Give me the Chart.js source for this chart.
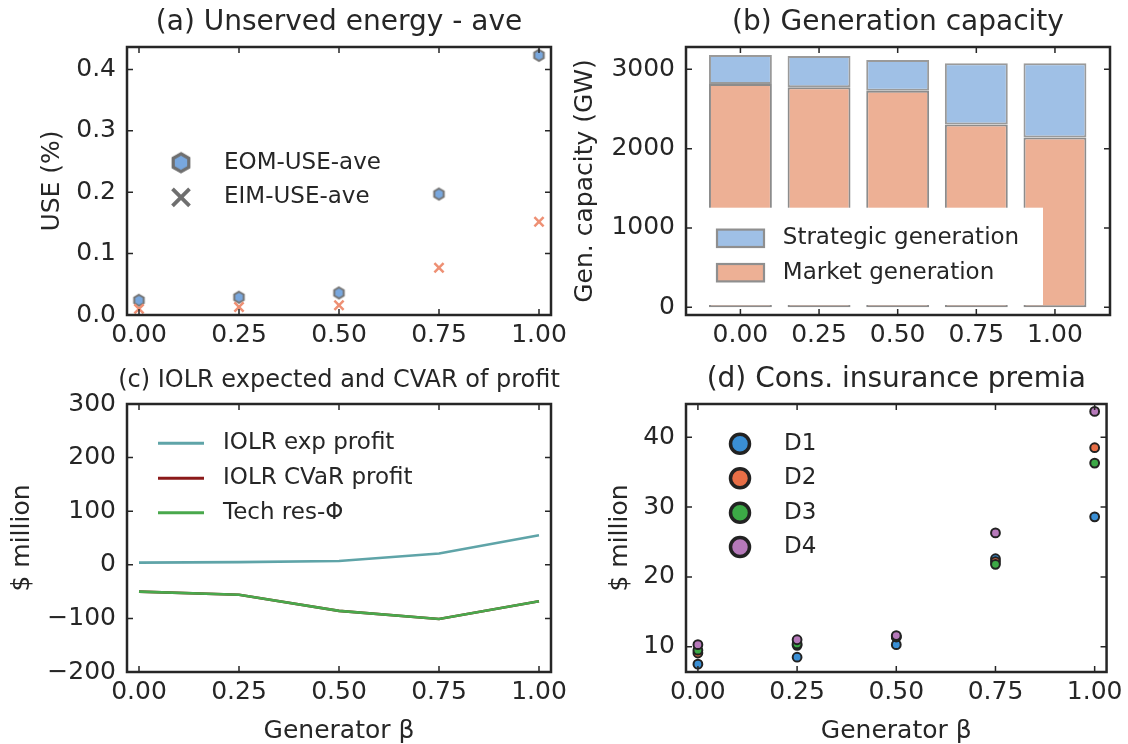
<!DOCTYPE html>
<html>
<head>
<meta charset="utf-8">
<script src="https://cdn.jsdelivr.net/npm/chart.js@4/dist/chart.umd.min.js"></script>
<style>
  html, body { margin: 0; padding: 0; background: #fff; }
  #wrap { position: relative; width: 1128px; height: 744px; overflow: hidden; }
  canvas { position: absolute; left: 0; top: 0; }
</style>
</head>
<body>
<div id="wrap">
  <canvas id="chartA" width="1128" height="744"></canvas>
  <canvas id="chartB" width="1128" height="744"></canvas>
  <canvas id="chartC" width="1128" height="744"></canvas>
  <canvas id="chartD" width="1128" height="744"></canvas>
</div>
<script>
// ---- data ----
const beta = [0, 0.25, 0.5, 0.75, 1.0]
const betaTicks = [0, 0.25, 0.5, 0.75, 1.0]

// (a) unserved energy, %
const useTicks = [0, 0.1, 0.2, 0.3, 0.4]
const eomUse = [0.024, 0.029, 0.036, 0.197, 0.423]
const eimUse = [0.010, 0.013, 0.016, 0.077, 0.152]

// (b) generation capacity, GW
const capTicks = [0, 1000, 2000, 3000]
const marketGen = [2816, 2774, 2731, 2303, 2139]
const strategicGen = [365, 395, 387, 774, 938]

// (c) IOLR profit, $ million
const profitTicks = [-200, -100, 0, 100, 200, 300]
const iolrExp = [4, 5, 7, 21, 55]
const iolrCvar = [-50, -56, -86, -101, -68]
const techRes = [-50, -56, -86, -101, -68]

// (d) consumer insurance premia, $ million
const premiaTicks = [10, 20, 30, 40]
const d1 = [7.5, 8.5, 10.3, 22.6, 28.6]
const d2 = [9.1, 10.2, 11.4, 22.2, 38.5]
const d3 = [9.5, 10.4, 11.4, 21.8, 36.3]
const d4 = [10.3, 11.0, 11.6, 26.3, 43.7]

const INK = '#262626'
const FONT = 'DejaVu Sans'
Chart.defaults.font.family = FONT
Chart.defaults.color = INK

const pts = (ys) => beta.map((b, i) => ({ x: b, y: ys[i] }))

const hexCanvas = (r, fill, stroke, lw) => {
    const size = Math.ceil(2 * r + lw + 4)
    const c = document.createElement('canvas')
    c.width = size
    c.height = size
    const g = c.getContext('2d')
    g.translate(size / 2, size / 2)
    g.beginPath()
    for (let i = 0; i < 6; i++) {
        const a = Math.PI / 180 * (60 * i - 90)
        g.lineTo(r * Math.cos(a), r * Math.sin(a))
    }
    g.closePath()
    g.fillStyle = fill
    g.fill()
    g.lineWidth = lw
    g.strokeStyle = stroke
    g.stroke()
    return c
}

const xAxis = (min, max, bottom, ticks) => ({
    type: 'linear',
    min: min,
    max: max,
    offset: false,
    afterBuildTicks: (s) => { s.ticks = ticks.map(v => ({ value: v })) },
    afterFit: (s) => { s.height = 744 - bottom },
    grid: { display: false, drawTicks: false, offset: false },
    border: { display: false },
    ticks: {
        color: INK, font: { size: 25 }, padding: 5, maxRotation: 0, autoSkip: false,
        callback: (v) => v.toFixed(2)
    }
})

const yAxis = (min, max, left, ticks, fmt, stacked) => ({
    type: 'linear',
    min: min,
    max: max,
    stacked: !!stacked,
    afterBuildTicks: (s) => { s.ticks = ticks.map(v => ({ value: v })) },
    afterFit: (s) => { s.width = left },
    grid: { display: false, drawTicks: false },
    border: { display: false },
    ticks: { color: INK, font: { size: 25 }, padding: 11, autoSkip: false, callback: fmt }
})

const pad = (top, right) => ({ top: top, right: 1128 - right, left: 0, bottom: 0 })

// frame with inward ticks on all four sides
const frame = {
    id: 'frame',
    afterDraw(chart) {
        const { ctx, chartArea: a } = chart
        const x = chart.scales.x
        const y = chart.scales.y
        ctx.save()
        ctx.strokeStyle = INK
        ctx.lineWidth = 1.5
        ctx.beginPath()
        x.ticks.forEach(t => {
            const p = x.getPixelForValue(t.value)
            ctx.moveTo(p, a.bottom); ctx.lineTo(p, a.bottom - 6)
            ctx.moveTo(p, a.top); ctx.lineTo(p, a.top + 6)
        })
        y.ticks.forEach(t => {
            const p = y.getPixelForValue(t.value)
            ctx.moveTo(a.left, p); ctx.lineTo(a.left + 6, p)
            ctx.moveTo(a.right, p); ctx.lineTo(a.right - 6, p)
        })
        ctx.stroke()
        ctx.lineWidth = 2.5
        ctx.strokeRect(a.left, a.top, a.right - a.left, a.bottom - a.top)
        ctx.restore()
    }
}

// panel title and axis labels
const panelText = {
    id: 'panelText',
    afterDraw(chart, args, opts) {
        const { ctx, chartArea: a } = chart
        const cx = (a.left + a.right) / 2
        ctx.save()
        ctx.fillStyle = INK
        ctx.textAlign = 'center'
        ctx.textBaseline = 'alphabetic'
        ctx.font = opts.titleSize + 'px "' + FONT + '"'
        ctx.fillText(opts.title, cx, a.top - 17.5)
        ctx.font = '25px "' + FONT + '"'
        if (opts.xLabel) ctx.fillText(opts.xLabel, cx, 738)
        ctx.translate(opts.yLabelX, (a.top + a.bottom) / 2)
        ctx.rotate(-Math.PI / 2)
        ctx.textBaseline = 'middle'
        ctx.fillText(opts.yLabel, 0, 0)
        ctx.restore()
    }
}

const legendText = (ctx, text, x, y) => {
    ctx.fillStyle = INK
    ctx.font = '23px "' + FONT + '"'
    ctx.textAlign = 'left'
    ctx.textBaseline = 'middle'
    ctx.fillText(text, x, y)
}

// ---------- (a) ----------
const hexData = hexCanvas(5.5, '#78a7de', '#747474', 2)
const hexLegend = hexCanvas(9, '#78a7de', '#6f6f6f', 3.2)

new Chart(document.getElementById('chartA'), {
    type: 'scatter',
    data: {
        datasets: [
            {
                label: 'EOM-USE-ave', data: pts(eomUse), order: 1,
                pointStyle: hexData, pointRadius: 6
            },
            {
                label: 'EIM-USE-ave', data: pts(eimUse), order: 0,
                pointStyle: 'crossRot', pointRadius: 6.5, borderWidth: 2.5,
                borderColor: '#ee9074', backgroundColor: '#ee9074'
            }
        ]
    },
    options: {
        responsive: false, animation: false, devicePixelRatio: 1, events: [],
        layout: { padding: pad(47, 551) },
        scales: {
            x: xAxis(-0.03, 1.03, 315, betaTicks),
            y: yAxis(0, 0.4365, 127, useTicks, (v) => v.toFixed(1))
        },
        plugins: {
            legend: { display: false }, tooltip: { enabled: false },
            panelText: { title: '(a) Unserved energy - ave', titleSize: 28, yLabel: 'USE (%)', yLabelX: 52.5 }
        }
    },
    plugins: [frame, panelText, {
        id: 'legendA',
        afterDatasetsDraw(chart) {
            const ctx = chart.ctx
            const ds = chart.data.datasets
            ctx.save()
            ctx.drawImage(hexLegend, 181 - hexLegend.width / 2, 162.7 - hexLegend.height / 2)
            ctx.strokeStyle = '#6f6f6f'
            ctx.lineWidth = 3.8
            ctx.beginPath()
            ctx.moveTo(172.5, 188.8); ctx.lineTo(189.5, 205.8)
            ctx.moveTo(189.5, 188.8); ctx.lineTo(172.5, 205.8)
            ctx.stroke()
            legendText(ctx, ds[0].label, 224, 162.7)
            legendText(ctx, ds[1].label, 224, 197.3)
            ctx.restore()
        }
    }]
})

// ---------- (b) ----------
new Chart(document.getElementById('chartB'), {
    type: 'bar',
    data: {
        datasets: [
            {
                label: 'Market generation', data: pts(marketGen),
                backgroundColor: '#edb095', borderColor: '#8c8c8c', borderWidth: 2, borderSkipped: false
            },
            {
                label: 'Strategic generation', data: pts(strategicGen),
                backgroundColor: '#9fc0e6', borderColor: '#9a9a9a', borderWidth: 2, borderSkipped: false
            }
        ]
    },
    options: {
        responsive: false, animation: false, devicePixelRatio: 1, events: [],
        layout: { padding: pad(47, 1110) },
        datasets: { bar: { grouped: false, categoryPercentage: 1, barPercentage: 0.8 } },
        scales: {
            x: xAxis(-0.173, 1.175, 315, betaTicks),
            y: yAxis(-97, 3281, 686, capTicks, (v) => String(v), true)
        },
        plugins: {
            legend: { display: false }, tooltip: { enabled: false },
            panelText: { title: '(b) Generation capacity', titleSize: 28, yLabel: 'Gen. capacity (GW)', yLabelX: 585.5 }
        }
    },
    plugins: [frame, panelText, {
        id: 'legendB',
        afterDatasetsDraw(chart) {
            const ctx = chart.ctx
            const ds = chart.data.datasets
            ctx.save()
            ctx.fillStyle = '#ffffff'
            ctx.fillRect(708.5, 207.7, 334.5, 97.3)
            const rows = [[ds[1], 238.3], [ds[0], 272.7]]
            rows.forEach(([d, y]) => {
                ctx.fillStyle = d.backgroundColor
                ctx.fillRect(717, y - 8.7, 47, 17.4)
                ctx.strokeStyle = '#8f8f8f'
                ctx.lineWidth = 2.2
                ctx.strokeRect(717, y - 8.7, 47, 17.4)
                legendText(ctx, d.label, 782.8, y)
            })
            ctx.restore()
        }
    }]
})

// ---------- (c) ----------
new Chart(document.getElementById('chartC'), {
    type: 'line',
    data: {
        datasets: [
            { label: 'IOLR exp profit', data: pts(iolrExp), borderColor: '#5fa4a8', order: 2 },
            { label: 'IOLR CVaR profit', data: pts(iolrCvar), borderColor: '#8b1a1a', order: 1 },
            { label: 'Tech res-\u03A6', data: pts(techRes), borderColor: '#49a84c', order: 0 }
        ]
    },
    options: {
        responsive: false, animation: false, devicePixelRatio: 1, events: [],
        layout: { padding: pad(404, 551) },
        elements: { line: { borderWidth: 2.6, tension: 0, fill: false }, point: { radius: 0 } },
        scales: {
            x: xAxis(-0.03, 1.03, 672, betaTicks),
            y: yAxis(-200, 300, 127, profitTicks, (v) => v < 0 ? '\u2212' + Math.abs(v) : String(v))
        },
        plugins: {
            legend: { display: false }, tooltip: { enabled: false },
            panelText: { title: '(c) IOLR expected and CVAR of profit', titleSize: 24, yLabel: '$ million', yLabelX: 22, xLabel: 'Generator \u03B2' }
        }
    },
    plugins: [frame, panelText, {
        id: 'legendC',
        afterDatasetsDraw(chart) {
            const ctx = chart.ctx
            const ys = [443.3, 478.3, 512.7]
            ctx.save()
            chart.data.datasets.forEach((d, i) => {
                ctx.strokeStyle = d.borderColor
                ctx.lineWidth = 3
                ctx.beginPath()
                ctx.moveTo(158, ys[i]); ctx.lineTo(204, ys[i])
                ctx.stroke()
                legendText(ctx, d.label, 223, ys[i])
            })
            ctx.restore()
        }
    }]
})

// ---------- (d) ----------
new Chart(document.getElementById('chartD'), {
    type: 'scatter',
    data: {
        datasets: [
            { label: 'D1', data: pts(d1), backgroundColor: '#3a8fd5', order: 3 },
            { label: 'D2', data: pts(d2), backgroundColor: '#e86e46', order: 2 },
            { label: 'D3', data: pts(d3), backgroundColor: '#3ca946', order: 1 },
            { label: 'D4', data: pts(d4), backgroundColor: '#b679ba', order: 0 }
        ]
    },
    options: {
        responsive: false, animation: false, devicePixelRatio: 1, events: [],
        layout: { padding: pad(404, 1110) },
        elements: { point: { radius: 4.4, borderWidth: 2, borderColor: '#222222' } },
        scales: {
            x: xAxis(-0.03, 1.03, 672, betaTicks),
            y: yAxis(6.38, 44.76, 686, premiaTicks, (v) => String(v))
        },
        plugins: {
            legend: { display: false }, tooltip: { enabled: false },
            panelText: { title: '(d) Cons. insurance premia', titleSize: 28, yLabel: '$ million', yLabelX: 620, xLabel: 'Generator \u03B2' }
        }
    },
    plugins: [frame, panelText, {
        id: 'legendD',
        afterDatasetsDraw(chart) {
            const ctx = chart.ctx
            const ys = [443.7, 478.3, 512.7, 547]
            ctx.save()
            chart.data.datasets.forEach((d, i) => {
                ctx.beginPath()
                ctx.arc(740, ys[i], 9.5, 0, Math.PI * 2)
                ctx.fillStyle = d.backgroundColor
                ctx.fill()
                ctx.lineWidth = 3.5
                ctx.strokeStyle = '#222222'
                ctx.stroke()
                legendText(ctx, d.label, 784, ys[i])
            })
            ctx.restore()
        }
    }]
})
</script>
</body>
</html>
